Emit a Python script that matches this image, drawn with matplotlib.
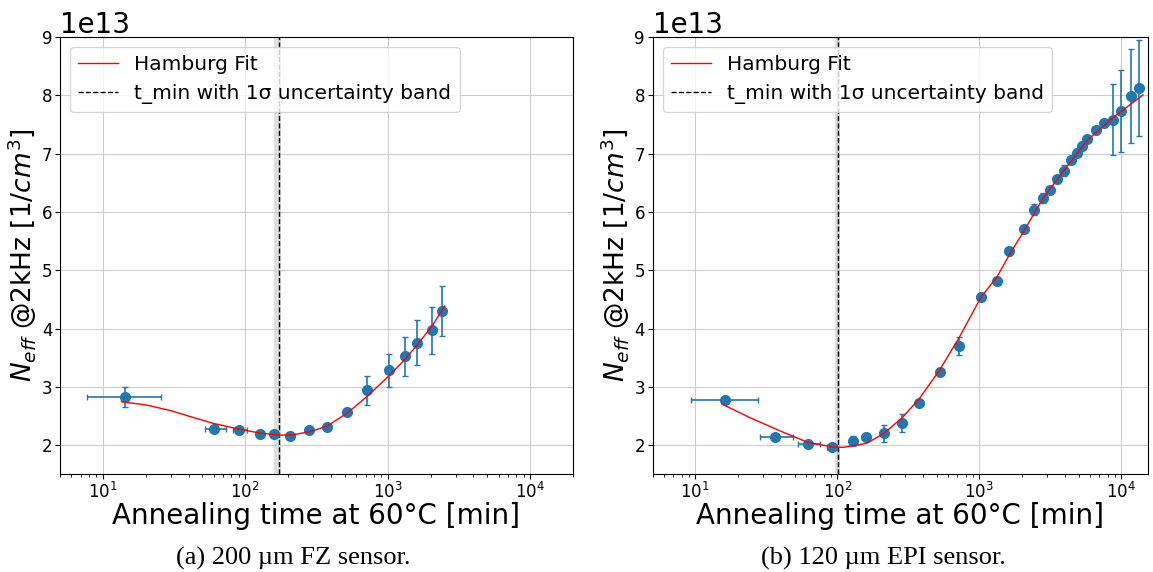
import numpy as np
import matplotlib.pyplot as plt

# ---- (a) 200 um FZ sensor ----
fz_t = [14.3, 60, 90, 127, 158, 207, 280, 372, 519, 713, 1021, 1320, 1614, 2046, 2395]
fz_t_lo = [7.7, 52, 82, 120, 150, 200, 280, 372, 519, 713, 1021, 1320, 1614, 2046, 2395]
fz_t_hi = [25.8, 73, 103, 135, 166, 214, 280, 372, 519, 713, 1021, 1320, 1614, 2046, 2395]
fz_n = [2.83, 2.27, 2.25, 2.19, 2.19, 2.15, 2.25, 2.31, 2.57, 2.94, 3.28, 3.52, 3.76, 3.97, 4.30]
fz_nerr = [0.17, 0.04, 0.04, 0.03, 0.03, 0.04, 0.04, 0.04, 0.05, 0.25, 0.29, 0.34, 0.38, 0.40, 0.43]
fz_fit_t = [13.5, 20, 30, 43, 60, 90, 127, 175, 217, 281, 372, 519, 713, 1021, 1324, 1616, 2046, 2510]
fz_fit_n = [2.742, 2.69, 2.59, 2.474, 2.37, 2.274, 2.205, 2.171, 2.177, 2.228, 2.32, 2.548, 2.83,
            3.187, 3.473, 3.724, 4.04, 4.385]
fz_tmin, fz_tmin_lo, fz_tmin_hi = 172, 158, 178

# ---- (b) 120 um EPI sensor ----
epi_t = [16.3, 36.2, 62.2, 91.4, 129, 160, 213, 286, 376, 526, 719, 1028, 1327, 1630, 2067,
         2420, 2800, 3155, 3517, 3940, 4435, 4866, 5300, 5750, 6655, 7500, 8730, 9940, 11600, 13370]
epi_t_lo = [9.3, 28.4, 53, 84] + [None] * 26
epi_t_hi = [27.6, 48.8, 75, 100] + [None] * 26
epi_n = [2.77, 2.14, 2.02, 1.97, 2.07, 2.13, 2.20, 2.38, 2.73, 3.25, 3.70, 4.54, 4.82, 5.33, 5.70,
         6.04, 6.24, 6.38, 6.57, 6.71, 6.90, 7.01, 7.14, 7.26, 7.41, 7.53, 7.58, 7.73, 7.99, 8.13]
epi_nerr = [0.03, 0.03, 0.03, 0.03, 0.08, 0.05, 0.14, 0.16, 0.03, 0.03, 0.15, 0.03, 0.03, 0.06, 0.03,
            0.10, 0.09, 0.04, 0.04, 0.09, 0.04, 0.04, 0.04, 0.05, 0.04, 0.04, 0.61, 0.70, 0.80, 0.82]
epi_fit_t = [15.5, 24.2, 41.5, 62.3, 91.4, 110, 161, 213, 286, 376, 526, 719, 1028, 1327, 1630,
             2067, 2800, 3940, 5750, 8730, 14200]
epi_fit_n = [2.70, 2.47, 2.22, 2.045, 1.97, 1.96, 2.03, 2.20, 2.47, 2.79, 3.29, 3.84, 4.54, 4.88,
             5.27, 5.68, 6.23, 6.71, 7.23, 7.62, 8.01]
epi_tmin, epi_tmin_lo, epi_tmin_hi = 101, 97, 105

SCALE = 1e13


def panel(ax, t, t_lo, t_hi, n, nerr, fit_t, fit_n, tmin, tmin_lo, tmin_hi, xmax):
    t = np.array(t, dtype=float)
    lo = np.array([v if v is not None else x for v, x in zip(t_lo, t)], dtype=float)
    hi = np.array([v if v is not None else x for v, x in zip(t_hi, t)], dtype=float)
    xerr = [t - lo, hi - t]
    ax.errorbar(t, np.array(n) * SCALE, yerr=np.array(nerr) * SCALE, xerr=xerr,
                fmt='o', color='C0', markersize=7, capsize=2.5, elinewidth=1.2, zorder=3)
    ax.plot(fit_t, np.array(fit_n) * SCALE, color='red', lw=1, label='Hamburg Fit', zorder=4)
    ax.axvline(tmin, color='black', ls='--', lw=1, label='t_min with 1σ uncertainty band')
    ax.axvspan(tmin_lo, tmin_hi, color='gray', alpha=0.25, lw=0)
    ax.set_xscale('log')
    ax.set_xlim(5, xmax)
    ax.set_ylim(1.5e13, 9e13)
    ax.grid(True, color='#cccccc')
    ax.tick_params(labelsize=12)
    ax.tick_params(axis='x', pad=2)
    ax.tick_params(axis='y', pad=2)
    ax.yaxis.get_offset_text().set_fontsize(20)
    ax.set_xlabel('Annealing time at 60°C [min]', fontsize=20, labelpad=0)
    ax.set_ylabel(r'$N_{eff}$ @2kHz [$1/cm^3$]', fontsize=19, labelpad=2)
    ax.legend(loc='upper left', fontsize=14.5)


fig = plt.figure(figsize=(11.53, 5.72), dpi=100)
ax1 = fig.add_axes([0.052, 0.171, 0.445, 0.764])
ax2 = fig.add_axes([0.566, 0.171, 0.430, 0.764])

panel(ax1, fz_t, fz_t_lo, fz_t_hi, fz_n, fz_nerr, fz_fit_t, fz_fit_n,
      fz_tmin, fz_tmin_lo, fz_tmin_hi, 20000)
panel(ax2, epi_t, epi_t_lo, epi_t_hi, epi_n, epi_nerr, epi_fit_t, epi_fit_n,
      epi_tmin, epi_tmin_lo, epi_tmin_hi, 15500)

fig.text(0.254, 0.024, '(a) 200 µm FZ sensor.', ha='center', va='center',
         fontsize=19, family='Liberation Serif')
fig.text(0.766, 0.024, '(b) 120 µm EPI sensor.', ha='center', va='center',
         fontsize=19, family='Liberation Serif')

fig.savefig('out.png', dpi=100)
